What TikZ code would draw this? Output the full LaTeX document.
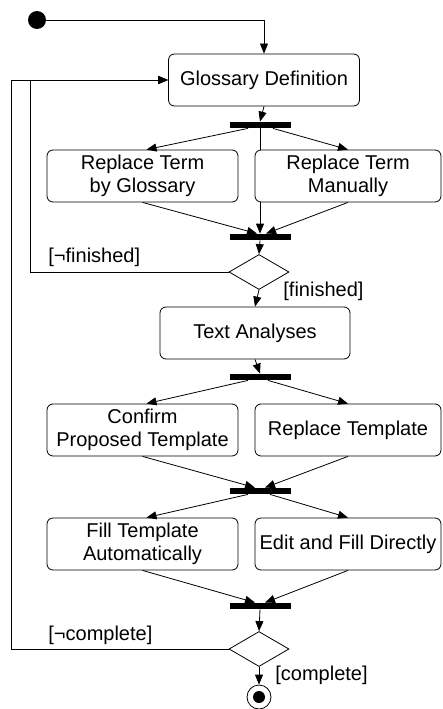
\documentclass[tikz,border=0pt]{standalone}
\usepackage{fontspec}
\setmainfont{Liberation Sans}
\usepackage{tikz}
\usetikzlibrary{arrows.meta}
\usetikzlibrary{shapes.geometric}
\tikzset{
  action/.style={draw, fill=white, rounded corners=6pt, minimum width=191pt, minimum height=52pt, align=center, inner sep=0pt},
  bar/.style={fill=black, minimum width=61pt, minimum height=6pt, inner sep=0pt},
  decision/.style={draw, fill=white, diamond, aspect=1.7, minimum width=60pt, minimum height=35pt, inner sep=0pt},
  flow/.style={-{Triangle[length=10pt,width=8pt]}},
  guard/.style={anchor=west, inner sep=0pt}
}
\begin{document}
\begin{tikzpicture}[x=1pt,y=-1pt,line width=0.8pt]
\fontsize{20}{23}\selectfont
\useasboundingbox (0,0) rectangle (442,709);
\node[circle, fill, minimum size=18pt, inner sep=0pt] (start) at (37,20) {};
\node[action] (glossary) at (264,80) {Glossary Definition};
\node[bar] (fork1) at (260,125) {};
\node[bar] (join1) at (260,237) {};
\draw[flow] (fork1) -- (join1);
\node[action] (replGlossary) at (142.5,176) {Replace Term\\by Glossary};
\node[action, minimum width=186pt] (replManual) at (348,176) {Replace Term\\Manually};
\node[decision] (dec1) at (259,272) {};
\node[action, minimum width=190pt] (textAn) at (255,333) {Text Analyses};
\node[bar] (fork2) at (260,377) {};
\node[action] (confirm) at (142.5,430) {Confirm\\Proposed Template};
\node[action, minimum width=186pt] (replTemplate) at (348,430) {Replace Template};
\node[bar] (fork3) at (260,491) {};
\node[action] (fillAuto) at (142.5,544) {Fill Template\\Automatically};
\node[action, minimum width=186pt] (editFill) at (348,544) {Edit and Fill Directly};
\node[bar] (join3) at (260,606) {};
\node[decision] (dec2) at (259,649) {};
\node[circle, draw, minimum size=24pt, inner sep=0pt] (final) at (259,697) {};
\fill (final.center) circle (6pt);
\draw[flow] (start) -| (glossary.north);
\draw[flow] (glossary.south) -- (fork1.north);
\draw[flow] ([xshift=-12pt]fork1.south) -- ([xshift=4pt]replGlossary.north);
\draw[flow] ([xshift=13pt]fork1.south) -- (replManual.north);
\draw[flow] (replGlossary.south) -- ([xshift=-3pt]join1.north);
\draw[flow] (replManual.south) -- ([xshift=6pt]join1.north);
\draw[flow] (join1.south) -- (dec1.north);
\draw[flow] (dec1.west) -- (30,272) |- (glossary.west);
\draw[flow] (dec1.south) -- (textAn.north);
\draw[flow] (textAn.south) -- (fork2.north);
\draw[flow] ([xshift=-12pt]fork2.south) -- ([xshift=4pt]confirm.north);
\draw[flow] ([xshift=8pt]fork2.south) -- (replTemplate.north);
\draw[flow] (confirm.south) -- ([xshift=-5pt]fork3.north);
\draw[flow] (replTemplate.south) -- ([xshift=5pt]fork3.north);
\draw[flow] ([xshift=-12pt]fork3.south) -- ([xshift=4pt]fillAuto.north);
\draw[flow] ([xshift=10pt]fork3.south) -- (editFill.north);
\draw[flow] (fillAuto.south) -- ([xshift=-5pt]join3.north);
\draw[flow] (editFill.south) -- ([xshift=5pt]join3.north);
\draw[flow] (join3.south) -- (dec2.north);
\draw[flow] (dec2.west) -- (11,649) |- (glossary.west);
\draw[flow] (dec2.south) -- (final.north);
\node[guard] (notFinished) at (48,257) {[¬finished]};
\node[guard] (finished) at (283,291) {[finished]};
\node[guard] (notComplete) at (48,635) {[¬complete]};
\node[guard] (complete) at (275,675) {[complete]};
\end{tikzpicture}
\end{document}
